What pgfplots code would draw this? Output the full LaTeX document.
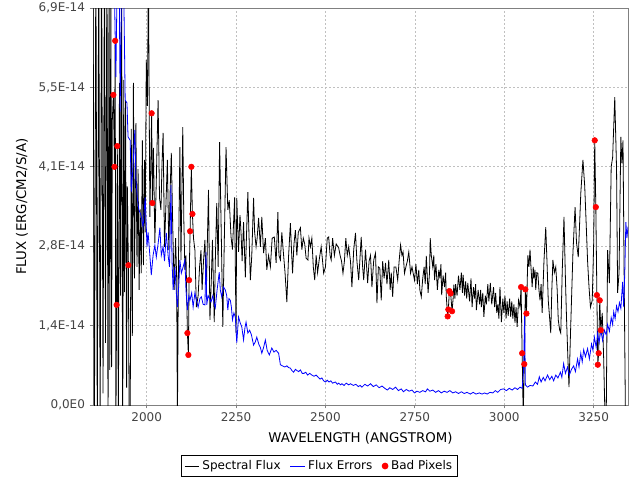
\documentclass[border=0pt]{standalone}
\usepackage{fontspec}
\setmainfont{DejaVu Sans}
\usepackage{pgfplots}
\pgfplotsset{compat=1.18}
\definecolor{txtgray}{RGB}{68,68,68}
\definecolor{gridgray}{RGB}{192,192,192}
\definecolor{framegray}{RGB}{128,128,128}
\definecolor{fluxblue}{RGB}{0,0,255}
\definecolor{badred}{RGB}{255,0,0}
\begin{document}
\begin{tikzpicture}
\useasboundingbox (0,0) rectangle (480pt,360pt);
\begin{axis}[
  at={(69.75pt,56.25pt)}, anchor=south west,
  scale only axis, width=401.25pt, height=297.75pt,
  xmin=1850, xmax=3346, ymin=0, ymax=6.9,
  xtick={2000,2250,2500,2750,3000,3250},
  xticklabels={2000,2250,2500,2750,3000,3250},
  ytick={0,1.38,2.76,4.14,5.52,6.9},
  yticklabels={{0,0E0},{1,4E-14},{2,8E-14},{4,1E-14},{5,5E-14},{6,9E-14}},
  /pgf/number format/assume math mode=true,
  xtick pos=lower, ytick pos=left,
  tick align=outside, major tick length=2.5pt,
  tick style={draw=framegray, line width=0.6pt},
  ticklabel style={font=\fontsize{9}{10}\selectfont, text=txtgray},
  grid=major,
  grid style={gridgray, dash pattern=on 1.5pt off 1.5pt, line width=0.5pt},
  axis line style={framegray, line width=0.7pt},
  xlabel={WAVELENGTH (ANGSTROM)},
  ylabel={FLUX (ERG/CM2/S/A)},
  label style={font=\fontsize{11}{13}\selectfont, text=txtgray},
  every axis x label/.style={at={(axis description cs:0.5,-0.083)}, anchor=center},
  every axis y label/.style={at={(axis description cs:-0.133,0.5)}, rotate=90, anchor=center},
  legend style={at={(axis description cs:0.4234,-0.1537)}, anchor=center,
    draw=black, line width=0.8pt, font=\fontsize{9}{10}\selectfont,
    inner xsep=2pt, inner ysep=1.5pt,
    /tikz/every even column/.append style={column sep=5pt}},
  legend columns=3,
  legend image code/.code={\draw[#1] (0pt,0pt) -- (11pt,0pt);},
]
\addplot[black, line width=0.6pt] table {
1850 8
1854 -0.5
1858 8
1862 -0.5
1866 8
1870 -0.5
1874 8
1878 0.2
1882 8
1885 1.08
1889 8
1892 -0.5
1895 8
1897 0.61
1900 7.5
1902 0.66
1904 4.95
1907 5.39
1910 4.14
1912 6.33
1914 -0.5
1916 1.74
1918 4.50
1921 -0.5
1924 5.6
1927 1.9
1930 7.5
1933 -0.5
1936 5.65
1938 1.96
1941 5.3
1944 0.3
1946 3.8
1949 2.43
1951 -0.3
1954 -0.3
1957 4.8
1960 1.2
1963 5.6
1966 2.2
1970 4.9
1973 2.4
1976 4.1
1979 2.0
1982 3.4
1985 2.29
1988 4.6
1991 2.43
1994 4.26
1996 3.0
1999 6.0
2002 5.2
2005 7.5
2009 3.27
2014 5.07
2016 3.51
2019 4.47
2023 2.82
2027 3.9
2032 5.3
2036 3.6
2040 3.39
2043 4.2
2046 4.73
2050 2.75
2054 3.5
2058 4.26
2062 2.69
2066 3.8
2069 4.38
2073 3.1
2077 2.0
2081 2.9
2084 2.2
2086 -0.3
2089 2.5
2093 4.48
2096 2.52
2101 4.83
2104 3.2
2107 2.35
2110 2.6
2114 1.25
2116.7 0.87
2118.7 2.17
2121.5 3.02
2125 4.14
2128 3.32
2131 2.9
2135 2.69
2139 1.70
2144 1.9
2148 2.4
2152 2.69
2155 2.0
2159 2.5
2163 2.87
2167 1.95
2170 2.9
2173 3.74
2177 1.48
2181 2.2
2184 2.87
2189 1.44
2192 2.5
2196 3.51
2200 2.4
2204 4.57
2208 3.22
2213 1.36
2217 2.8
2222 4.48
2227 3.39
2231 3.56
2236 2.92
2240 2.7
2246 3.61
2250 1.25
2252 3.6
2257 2.66
2261 3.3
2264 2.99
2267 2.5
2271 3.18
2276 2.22
2279 2.9
2283 3.7
2286 3.0
2290 2.17
2294 2.6
2299 3.60
2302 3.0
2306 2.75
2309 2.9
2313 3.25
2318 2.75
2322 3.27
2327 2.64
2332 2.9
2336 2.35
2341 2.6
2346 2.40
2351 2.9
2357 2.92
2362 2.47
2367 3.35
2370 2.6
2374 2.52
2378 3.0
2383 2.6
2387 2.3
2392 1.79
2397 2.6
2402 3.16
2405 2.7
2408 2.29
2412 2.8
2416 3.04
2420 2.6
2424 3.0
2430 3.08
2434 2.7
2438 2.9
2442 2.8
2446 2.55
2451 2.52
2454 2.9
2458 2.75
2462 2.9
2466 2.4
2470 2.17
2474 2.6
2478 2.3
2482 2.5
2488 2.75
2492 2.5
2495 2.29
2500 2.4
2505 2.9
2509 2.92
2513 2.6
2516 2.52
2520 2.9
2525 2.6
2530 2.8
2537 2.73
2541 2.6
2545 2.5
2549 2.29
2553 2.5
2557 2.9
2561 2.6
2565 2.75
2570 2.5
2574 2.05
2579 2.7
2584 2.99
2588 2.5
2593 2.17
2597 2.6
2600 2.92
2604 2.4
2607 2.17
2612 2.7
2618 2.12
2622 2.5
2626 2.6
2630 2.05
2635 2.52
2640 2.64
2644 1.77
2648 2.4
2652 2.38
2656 1.82
2660 2.5
2664 2.2
2668 2.47
2672 2.1
2677 2.52
2681 2.0
2684 2.3
2688 1.88
2692 2.4
2697 2.4
2702 2.17
2706 2.5
2710 2.78
2714 2.6
2717 2.66
2721 2.29
2725 2.4
2729 2.5
2733 2.66
2738 2.29
2742 2.4
2745 2.3
2749 2.17
2753 2.45
2757 2.1
2761 2.35
2764 2.0
2768 1.88
2772 2.2
2776 2.4
2779 2.1
2782 2.59
2785 2.2
2787 1.95
2791 2.3
2793 2.9
2796 2.6
2800 2.4
2803 2.6
2805 2.17
2809 2.45
2813 2.0
2817 2.35
2820 2.2
2823 2.45
2825 1.91
2829 2.25
2833 2.05
2836 2.3
2838 1.88
2841.7 1.54
2843.6 1.66
2846.5 1.98
2850 1.94
2854 1.63
2857 1.85
2859 2.09
2862 1.85
2864 2.1
2868 1.9
2872 2.25
2876 2.0
2880 2.3
2883 1.95
2885 2.26
2889 1.9
2892 2.15
2895 1.85
2898 2.12
2903 1.8
2907 2.2
2910 1.70
2914 2.05
2917 1.85
2920 2.1
2922 1.65
2927 2.0
2931 1.75
2934 2.0
2936 1.70
2940 1.95
2943 1.53
2947 1.9
2950 1.75
2954 2.1
2957 1.8
2961 2.12
2965 1.75
2970 2.05
2973 1.7
2976 1.95
2979 1.6
2982 1.75
2985 1.5
2988 2.05
2992 1.44
2996 1.85
2999 1.6
3002 1.9
3005 1.5
3008 1.8
3011 1.55
3015 1.85
3018 1.53
3021 1.8
3024 1.5
3027 1.75
3030 1.43
3033 1.7
3036 1.36
3040 1.82
3044 1.7
3047 2.05
3050 0.90
3053 -0.2
3056 0.71
3059 2.01
3062 1.59
3066 2.6
3069 2.40
3072 2.7
3074 2.47
3078 2.05
3081 2.4
3083 2.2
3086 2.35
3088 2.0
3091 2.3
3094 2.29
3097 2.0
3100 1.82
3103 2.1
3106 1.60
3111 2.5
3116 3.09
3120 2.4
3123 1.82
3127 1.5
3130 1.25
3133 2.0
3136 2.52
3140 2.3
3144 2.40
3148 2.0
3151 1.48
3155 1.3
3158 1.25
3162 2.3
3167 3.27
3171 2.2
3174 1.53
3178 0.8
3181 0.31
3185 1.2
3188 1.82
3192 2.64
3198 3.44
3202 2.82
3207 2.57
3211 3.2
3214 3.68
3220 4.26
3225 3.8
3229 3.16
3233 2.5
3237 2.05
3241 1.70
3246 1.82
3250 2.8
3253 4.60
3256 3.44
3259 1.91
3261.5 0.70
3264 0.90
3267 1.82
3270 1.30
3274 1.6
3278 0.8
3282 -0.3
3285 -0.3
3289 2.69
3294 2.12
3299 4.14
3303 4.3
3309 5.35
3314 4.1
3317 1.95
3321 2.3
3326 4.66
3329 4.2
3332 4.6
3336 1.7
3339 -0.3
3342 -0.3
};
\addlegendentry{Spectral Flux}
\addplot[fluxblue, line width=0.6pt] table {
1850 12
1870 12
1890 11
1905 9
1909 7.5
1914 5.7
1918 7.6
1922 8.5
1926 5.1
1930 7.4
1936 7.2
1940 5.3
1945 5.25
1948 4.66
1954 4.6
1957 3.7
1961 4.05
1967 4.78
1970 3.91
1974 3.6
1978 3.4
1984 3.3
1990 3.1
1996 3.61
2001 2.75
2004 3.0
2009 2.6
2013 2.26
2018 2.6
2023 2.78
2027 2.57
2032 2.8
2037 3.08
2041 2.6
2046 2.75
2050 2.5
2055 2.99
2060 2.6
2064 2.4
2068 3.82
2071 2.5
2074 2.0
2079 2.4
2083 1.95
2086 1.70
2090 2.1
2093 2.52
2097 2.29
2102 2.4
2107 2.52
2110 2.0
2114 1.65
2118 1.9
2121 1.82
2126 1.95
2130 1.70
2135 1.95
2140 1.8
2144 1.70
2149 1.85
2153 1.88
2158 1.75
2163 1.74
2166 2.66
2168 1.74
2172 1.9
2176 1.85
2180 1.79
2185 1.9
2189 1.75
2192 1.69
2197 2.0
2203 2.31
2206 2.0
2210 1.88
2215 2.05
2220 2.0
2224 1.9
2227 1.65
2230 1.85
2234 1.82
2237 1.7
2240 1.48
2244 1.6
2248 1.53
2252 1.08
2257 1.53
2262 1.42
2266 1.36
2271 1.13
2275 1.35
2278 1.44
2283 1.25
2288 1.30
2293 1.22
2299 1.04
2304 1.10
2308 1.18
2314 1.05
2318 1.0
2322 0.90
2327 1.0
2332 1.13
2337 0.95
2343 0.87
2350 0.99
2356 0.92
2362 0.95
2369 0.90
2374 0.70
2380 0.68
2386 0.66
2392 0.68
2397 0.65
2402 0.64
2406 0.60
2411 0.57
2416 0.62
2420 0.60
2425 0.58
2430 0.61
2435 0.55
2440 0.55
2445 0.57
2450 0.52
2456 0.55
2462 0.52
2468 0.50
2474 0.52
2480 0.48
2485 0.45
2490 0.47
2495 0.42
2500 0.40
2505 0.43
2510 0.40
2515 0.42
2520 0.38
2528 0.40
2533 0.36
2537 0.38
2542 0.35
2546 0.37
2552 0.34
2558 0.38
2565 0.35
2570 0.37
2578 0.34
2585 0.36
2592 0.32
2597 0.34
2602 0.31
2610 0.36
2618 0.33
2626 0.37
2634 0.32
2642 0.35
2650 0.30
2658 0.33
2666 0.29
2673 0.26
2680 0.30
2688 0.27
2696 0.31
2704 0.25
2712 0.28
2718 0.23
2726 0.27
2734 0.24
2742 0.26
2749 0.21
2756 0.24
2764 0.22
2772 0.25
2780 0.23
2785 0.28
2792 0.24
2800 0.26
2808 0.22
2816 0.25
2824 0.21
2832 0.24
2840 0.22
2848 0.25
2856 0.21
2864 0.23
2872 0.20
2880 0.23
2888 0.20
2896 0.22
2905 0.19
2913 0.22
2921 0.19
2930 0.21
2938 0.19
2945 0.21
2952 0.19
2960 0.22
2968 0.21
2975 0.25
2982 0.22
2990 0.27
2998 0.28
3006 0.25
3014 0.29
3022 0.26
3030 0.30
3037 0.27
3044 0.31
3050 0.29
3054 0.6
3057 1.6
3059 0.35
3065 0.31
3072 0.34
3080 0.33
3087 0.40
3093 0.36
3098 0.49
3103 0.40
3109 0.48
3114 0.42
3121 0.52
3127 0.44
3133 0.50
3138 0.42
3144 0.52
3150 0.47
3157 0.57
3161 0.48
3166 0.72
3171 0.55
3177 0.66
3182 0.52
3188 0.62
3194 0.68
3199 0.58
3205 0.80
3209 0.66
3214 0.90
3218 0.75
3222 0.96
3227 0.84
3233 0.98
3238 0.80
3244 1.06
3248 0.95
3252 1.18
3257 1.0
3261 1.25
3265 1.08
3270 1.30
3275 1.12
3280 1.30
3285 1.22
3289 1.40
3294 1.28
3299 1.52
3303 1.40
3306 1.62
3310 1.50
3314 1.72
3318 1.62
3322 1.78
3326 1.68
3331 2.14
3334 1.70
3337 2.3
3340 3.18
3343 2.9
3346 3.1
};
\addlegendentry{Flux Errors}
\addplot[only marks, mark=*, mark size=2.1pt, color=badred,
  legend image code/.code={\fill[badred] (5pt,0pt) circle (2.1pt);}] table {
1907 5.39
1910 4.14
1912 6.33
1916 1.74
1918 4.50
1949 2.43
2014 5.07
2016 3.51
2114 1.25
2116.7 0.87
2118.7 2.17
2121.5 3.02
2125 4.14
2128 3.32
2841.7 1.54
2843.6 1.66
2846.5 1.98
2850 1.94
2854 1.63
3047 2.05
3050 0.90
3056 0.71
3059 2.01
3062 1.59
3253 4.60
3256 3.44
3259 1.91
3261.5 0.70
3264 0.90
3267 1.82
3270 1.30
};
\addlegendentry{Bad Pixels}
\end{axis}
\end{tikzpicture}
\end{document}
